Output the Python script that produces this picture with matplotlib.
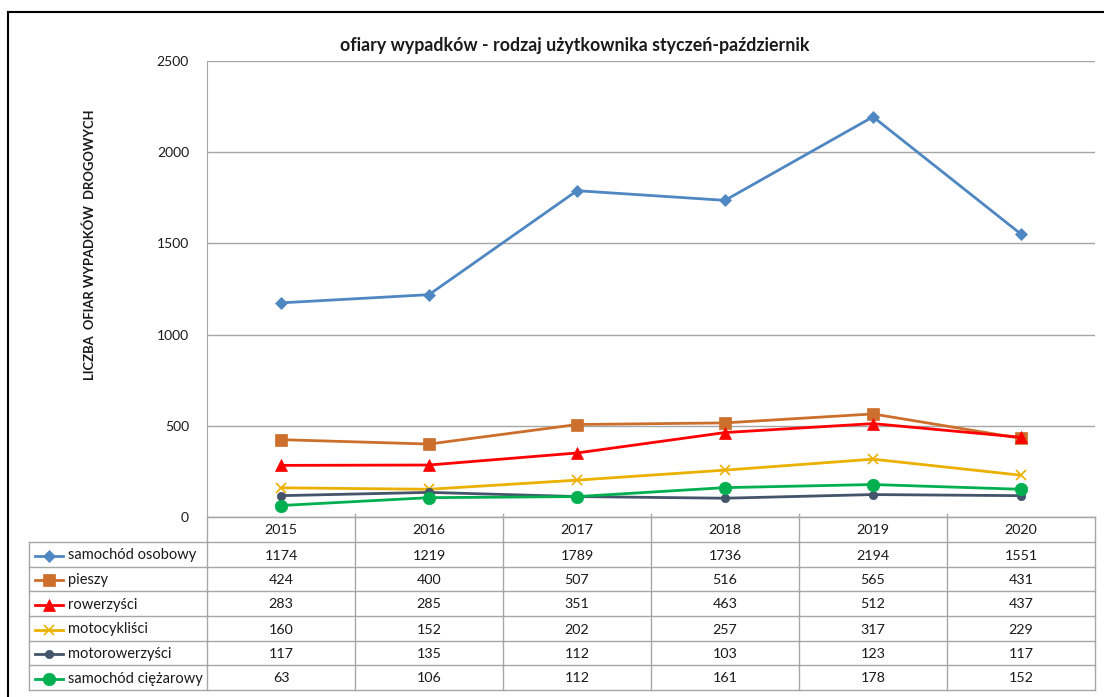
import matplotlib
matplotlib.use("Agg")
import matplotlib.pyplot as plt
from matplotlib.lines import Line2D

years = ["2015", "2016", "2017", "2018", "2019", "2020"]
series_names = ["samochód osobowy", "pieszy", "rowerzyści", "motocykliści",
                "motorowerzyści", "samochód ciężarowy"]
osobowy = [1174, 1219, 1789, 1736, 2194, 1551]
pieszy = [424, 400, 507, 516, 565, 431]
rowerzysci = [283, 285, 351, 463, 512, 437]
motocyklisci = [160, 152, 202, 257, 317, 229]
motorowerzysci = [117, 135, 112, 103, 123, 117]
ciezarowy = [63, 106, 112, 161, 178, 152]
series_values = [osobowy, pieszy, rowerzysci, motocyklisci, motorowerzysci, ciezarowy]
y_ticks = [0, 500, 1000, 1500, 2000, 2500]

title = "ofiary wypadków - rodzaj użytkownika styczeń-październik"
ylabel = "LICZBA  OFIAR WYPADKÓW  DROGOWYCH"

colors = ["#4F87C2", "#CC6F2C", "#FF0000", "#EBB000", "#44546A", "#00B050"]
markers = ["D", "s", "^", "x", "o", "o"]
msizes = [6.5, 9, 8.5, 7, 6, 9]
FONT = "Lato"
TXT = "#1A1A1A"

W, H = 1104, 697
fig = plt.figure(figsize=(W / 100, H / 100), dpi=100)

bg = fig.add_axes([0, 0, 1, 1])
bg.set_xlim(0, W)
bg.set_ylim(H, 0)
bg.axis("off")

def px_rect(x0, y0, x1, y1):
    return [x0 / W, 1 - y1 / H, (x1 - x0) / W, (y1 - y0) / H]

# outer frame (left and top visible)
bg.plot([8, 8], [12, H], color="black", lw=1.5)
bg.plot([8, W], [12, 12], color="black", lw=1.5)

PX0, PX1, PY0, PY1 = 207, 1095, 61, 517
ax = fig.add_axes(px_rect(PX0, PY0, PX1, PY1))
ax.set_xlim(-0.5, len(years) - 0.5)
ax.set_ylim(0, 2500)
ax.set_yticks(y_ticks)
ax.set_yticklabels([str(t) for t in y_ticks], fontsize=10, family=FONT, color=TXT)
ax.tick_params(axis="y", length=0, pad=13)
ax.set_xticks([])
ax.grid(axis="y", color="#A6A6A6", lw=1)
ax.set_axisbelow(True)
for s in ["top", "right"]:
    ax.spines[s].set_visible(False)
ax.spines["left"].set_color("#A6A6A6")
ax.spines["bottom"].set_color("#A6A6A6")
ax.patch.set_alpha(0)

xs = list(range(len(years)))
for vals, c, m, ms in zip(series_values, colors, markers, msizes):
    ax.plot(xs, vals, color=c, lw=2, marker=m, markersize=ms,
            markeredgewidth=1.2 if m == "x" else 0.5, markeredgecolor=c,
            clip_on=False)

fig.text(575 / W, 1 - 46 / H, title, ha="center", va="center",
         fontsize=12.8, fontweight="bold", family=FONT, color=TXT)
fig.text(90 / W, 1 - 245 / H, ylabel, ha="center", va="center", rotation=90,
         fontsize=9.4, fontweight="bold", family=FONT, color=TXT)

# data table
gc = "#A6A6A6"
col_w = (PX1 - PX0) / len(years)
row_edges = [517, 542, 567, 591, 616, 641, 665, 690]
TX0 = 29
for i, yy in enumerate(row_edges):
    x0 = PX0 if i == 0 else TX0
    bg.plot([x0, PX1], [yy, yy], color=gc, lw=1)
bg.plot([TX0, TX0], [row_edges[1], row_edges[-1]], color=gc, lw=1)
for j in range(len(years) + 1):
    xx = PX0 + j * col_w
    bg.plot([xx, xx], [row_edges[0] - 3 if 0 < j < len(years) else row_edges[0], row_edges[-1]],
            color=gc, lw=1)

for j, yl in enumerate(years):
    bg.text(PX0 + (j + 0.5) * col_w, (row_edges[0] + row_edges[1]) / 2 + 1, yl,
            ha="center", va="center", fontsize=10.3, family=FONT, color=TXT)
for i, (name, vals, c, m, ms) in enumerate(zip(series_names, series_values, colors, markers, msizes)):
    yc = (row_edges[i + 1] + row_edges[i + 2]) / 2 + 1
    bg.add_line(Line2D([35, 63], [yc, yc], color=c, lw=2))
    bg.add_line(Line2D([49], [yc], color=c, marker=m, markersize=ms,
                       markeredgewidth=1.2 if m == "x" else 0.5, markeredgecolor=c))
    bg.text(68, yc, name, ha="left", va="center", fontsize=10.5, family=FONT, color=TXT)
    for j, v in enumerate(vals):
        bg.text(PX0 + (j + 0.5) * col_w, yc, str(v), ha="center", va="center",
                fontsize=10.3, family=FONT, color=TXT)

fig.savefig("out.png", dpi=100)
